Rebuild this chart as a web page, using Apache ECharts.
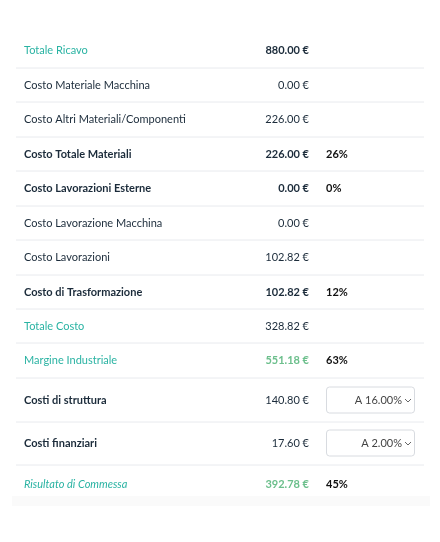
<!DOCTYPE html>
<html><head><meta charset="utf-8">
<script src="https://cdn.jsdelivr.net/npm/echarts@6/dist/echarts.min.js"></script>
<style>html,body{margin:0;padding:0;background:#fff}#c{width:440px;height:542px}</style>
</head><body><div id="c"></div>
<script>
var labels = ['Totale Ricavo','Costo Materiale Macchina','Costo Altri Materiali/Componenti','Costo Totale Materiali','Costo Lavorazioni Esterne','Costo Lavorazione Macchina','Costo Lavorazioni','Costo di Trasformazione','Totale Costo','Margine Industriale','Costi di struttura','Costi finanziari','Risultato di Commessa'];
var values = [880.00,0.00,226.00,226.00,0.00,0.00,102.82,102.82,328.82,551.18,140.80,17.60,392.78];
var percents = ['','','','26%','0%','','','12%','','63%','','','45%'];
var dropdowns = ['','','','','','','','','','','A 16.00%','A 2.00%',''];
var rowKind = ['tealBoldVal','plain','plain','bold','bold','plain','plain','bold','teal','green','boldLabel','boldLabel','greenItalic'];

var rowCenters = [50,85,119,154,188,223,257,292,326,360,400,443,484];
var seps = [68,102,137,171,206,240,275,309,343,378,422,465];
var TEAL='#2ab3a3', GREEN='#6cbf8c', DARK='#1b2b3a', FONT='Lato, "Noto Sans", sans-serif';
var g=[];
seps.forEach(function(y){g.push({type:'line',shape:{x1:16,y1:y,x2:424,y2:y},style:{stroke:'#e8eaee',lineWidth:1}});});
g.push({type:'rect',shape:{x:12,y:496,width:418,height:10},style:{fill:'#fafafa'}});
labels.forEach(function(l,i){
  var k=rowKind[i], y=rowCenters[i];
  var lc=DARK, lw='normal', ls='normal', vc=DARK, vw='normal';
  if(k==='tealBoldVal'){lc=TEAL;vw='bold';}
  if(k==='bold'){lw='bold';vw='bold';}
  if(k==='teal'){lc=TEAL;}
  if(k==='green'){lc=TEAL;vc=GREEN;vw='bold';}
  if(k==='boldLabel'){lw='bold';}
  if(k==='greenItalic'){lc=TEAL;ls='italic';vc=GREEN;vw='bold';}
  g.push({type:'text',x:24,y:y,style:{text:l,fill:lc,fontWeight:lw,fontStyle:ls,fontSize:11,fontFamily:FONT,verticalAlign:'middle'}});
  g.push({type:'text',x:309,y:y,style:{text:values[i].toFixed(2)+' €',fill:vc,fontWeight:vw,fontSize:11,fontFamily:FONT,align:'right',verticalAlign:'middle'}});
  if(percents[i]) g.push({type:'text',x:326,y:y,style:{text:percents[i],fill:'#111',fontWeight:'bold',fontSize:11,fontFamily:FONT,verticalAlign:'middle'}});
  if(dropdowns[i]){
    g.push({type:'rect',shape:{x:326.5,y:y-13,width:88,height:26,r:3},style:{fill:'#fff',stroke:'#d8dbe0',lineWidth:1}});
    g.push({type:'text',x:402,y:y,style:{text:dropdowns[i],fill:'#444',fontSize:11,fontFamily:FONT,align:'right',verticalAlign:'middle'}});
    g.push({type:'polyline',shape:{points:[[405,y-1],[408,y+2],[411,y-1]]},style:{stroke:'#666',lineWidth:1,fill:null}});
  }
});
var chart=echarts.init(document.getElementById('c'));
chart.setOption({graphic:g});
</script></body></html>
